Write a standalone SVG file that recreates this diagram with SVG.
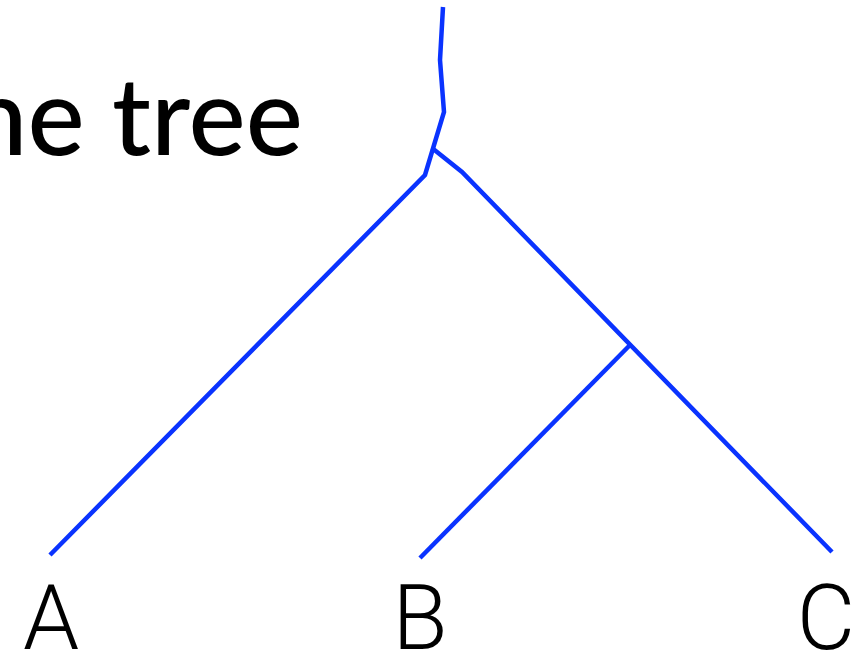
<svg xmlns="http://www.w3.org/2000/svg" width="861" height="660" viewBox="0 0 861 660">
<style>
.edge{fill:none;stroke:#0a33ff;stroke-width:4.5;stroke-linejoin:miter;stroke-linecap:butt}
.leaf{font-family:Roboto,"Liberation Sans",sans-serif;font-weight:300;font-size:90px;fill:#000;text-anchor:middle}
.title{font-family:Lato,"DejaVu Sans",sans-serif;font-weight:500;font-size:108px;fill:#000;text-anchor:end}
</style>
<rect width="861" height="660" fill="#fff"/>
<text class="title" x="303" y="155">the tree</text>
<g id="connectors">
<polyline class="edge" points="443,7 440,60 444,112 425,175 50,555"/>
<polyline class="edge" points="432,148 462,172 832,552"/>
<line class="edge" x1="630" y1="345" x2="420" y2="558"/>
</g>
<g id="node-A"><text class="leaf" x="51" y="649">A</text></g>
<g id="node-B"><text class="leaf" x="420" y="649">B</text></g>
<g id="node-C"><text class="leaf" x="826" y="649">C</text></g>
</svg>
